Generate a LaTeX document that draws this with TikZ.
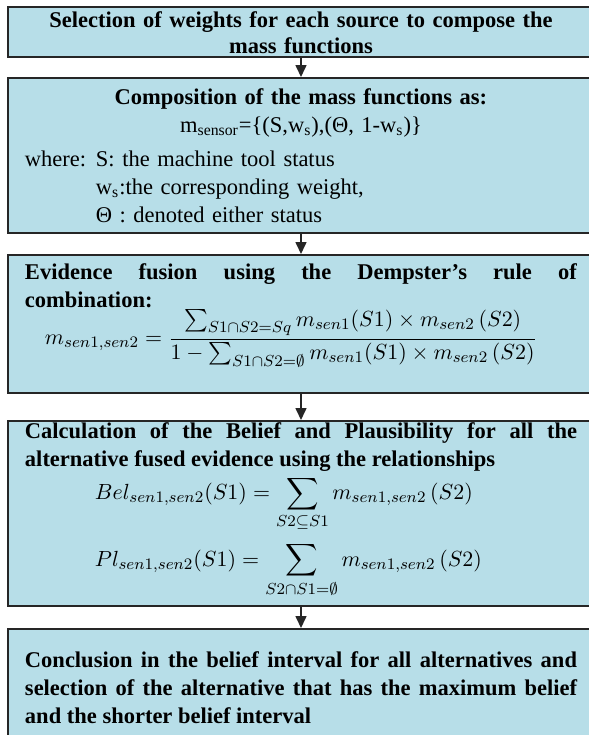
\documentclass[tikz,border=0pt]{standalone}
\usepackage{amsmath,amssymb}
\usepackage{fontspec}
\setmainfont{Liberation Serif}
\usetikzlibrary{arrows.meta, positioning}
\definecolor{boxfill}{HTML}{B7DEE8}
\definecolor{boxline}{HTML}{262626}
\tikzset{
    stage/.style={
        draw=boxline,
        line width=1pt,
        fill=boxfill,
        minimum width=293pt,
        text width=276pt,
        inner xsep=8.5pt,
        inner ysep=0pt,
        font=\fontsize{11.25}{14}\selectfont
    },
    flow/.style={-{Triangle[length=6pt, width=5.5pt]}, line width=0.8pt, draw=boxline}
}

\begin{document}
\begin{tikzpicture}
\clip (0,0) rectangle (294.5pt,-367.5pt);

\node[stage, anchor=north west, text height=10pt, text depth=15pt, align=center,
      font=\fontsize{11.25}{13}\selectfont] (select) at (3.5pt,-3pt)
  {\textbf{Selection of weights for each source to compose the\\ mass functions}};

\node[stage, below=9.5pt of select, text height=13pt, text depth=64.5pt, align=left] (compose)
  {{\centering \textbf{Composition of the mass functions as:}\\
   m\textsubscript{sensor}=\{(S,w\textsubscript{s}),(Θ, 1-w\textsubscript{s})\}\par}
   \vspace{3pt}
   \makebox[35.5pt][l]{where:}S: the machine tool status\\
   \hspace*{35.5pt}w\textsubscript{s}:the corresponding weight,\\
   \hspace*{35.5pt}Θ : denoted either status};

\node[stage, below=10pt of compose, text height=12pt, text depth=57pt, align=justify] (fusion)
  {\textbf{Evidence fusion using the Dempster's rule of\linebreak combination:}\par
   \hspace*{10pt}$\displaystyle m_{sen1,sen2}=\frac{\sum_{S1\cap S2=Sq} m_{sen1}(S1)\times m_{sen2}\,(S2)}{1-\sum_{S1\cap S2=\emptyset} m_{sen1}(S1)\times m_{sen2}\,(S2)}$};

\node[stage, below=13pt of fusion, text height=8.5pt, text depth=84pt, align=justify] (belief)
  {\textbf{Calculation of the Belief and Plausibility for all the\linebreak alternative fused evidence using the relationships}\par
   \vspace{1.5pt}
   \hspace*{35pt}$\displaystyle Bel_{sen1,sen2}(S1)=\sum_{S2\subseteq S1} m_{sen1,sen2}\,(S2)$\par
   \vspace{4.5pt}
   \hspace*{35pt}$\displaystyle Pl_{sen1,sen2}(S1)=\sum_{S2\cap S1=\emptyset} m_{sen1,sen2}\,(S2)$};

\node[stage, below=10.5pt of belief, text height=19pt, text depth=41.5pt, align=justify] (conclude)
  {\textbf{Conclusion in the belief interval for all alternatives and\linebreak selection of the alternative that has the maximum belief\linebreak and the shorter belief interval}};

\draw[flow] (select) -- (compose);
\draw[flow] (compose) -- (fusion);
\draw[flow] (fusion) -- (belief);
\draw[flow] (belief) -- (conclude);
\end{tikzpicture}
\end{document}
